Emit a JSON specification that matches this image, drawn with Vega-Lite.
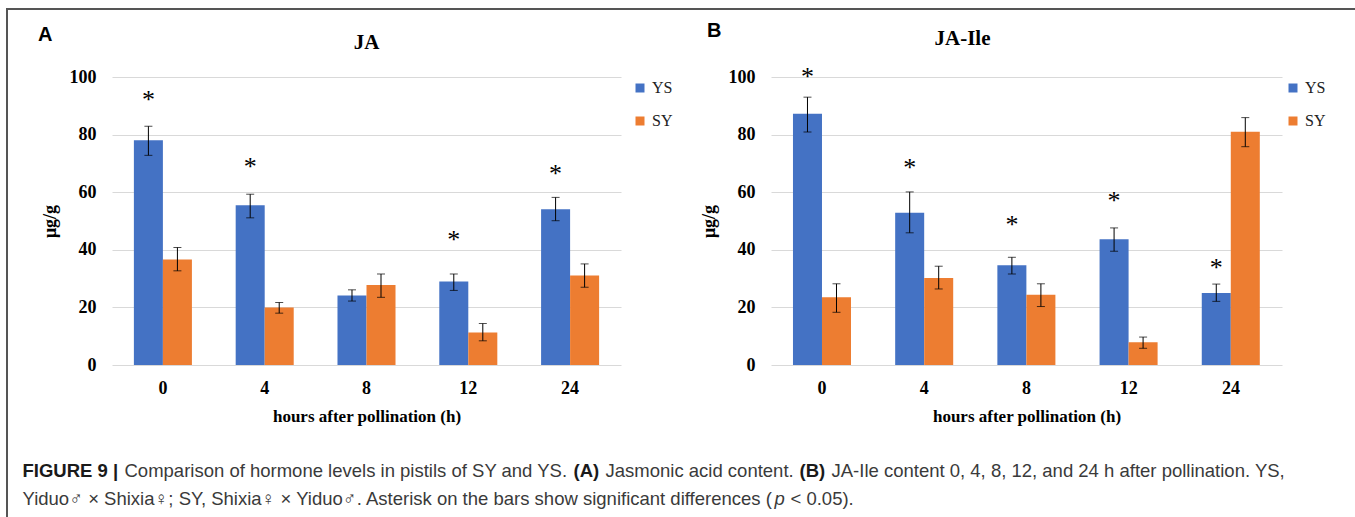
{
  "$schema": "https://vega.github.io/schema/vega-lite/v6.json",
  "padding": {"left": 6, "top": 8, "right": 0, "bottom": 0},
  "background": "white",
  "config": {
    "view": {"stroke": null},
    "font": "Liberation Serif",
    "axis": {"labelFont": "Liberation Serif", "titleFont": "Liberation Serif", "labelColor": "black", "titleColor": "black", "labelFontWeight": "bold", "titleFontWeight": "bold", "ticks": false},
    "legend": {"orient": "right", "symbolType": "square", "symbolSize": 81, "symbolStrokeWidth": 0, "labelFont": "Liberation Serif", "labelFontSize": 16, "labelColor": "#222222", "rowPadding": 17, "padding": 3, "labelOffset": 4},
    "title": {"font": "Liberation Serif", "fontWeight": "bold", "color": "black"}
  },
  "spacing": 0,
  "vconcat": [
    {"width": 1349, "height": 2, "view": {"fill": "#555555", "stroke": null}, "data": {"values": []}, "mark": "point", "encoding": {}},
    {
      "spacing": 14,
      "hconcat": [
        {"width": 2, "height": 520, "view": {"fill": "#555555", "stroke": null}, "data": {"values": []}, "mark": "point", "encoding": {}},
        {
          "spacing": 0,
          "vconcat": [
            {"width": 1, "height": 10, "data": {"values": []}, "mark": "point", "encoding": {}},
            {
              "spacing": 0,
              "resolve": {"scale": {"color": "independent"}, "legend": {"color": "independent"}},
              "hconcat": [
                {"width": 16, "height": 1, "data": {"values": []}, "mark": "point", "encoding": {}},
                {
                  "title": {"text": "A", "anchor": "start", "frame": "group", "font": "Liberation Sans", "fontSize": 20, "fontWeight": "bold", "color": "black", "offset": -13, "dx": -74},
                  "resolve": {"scale": {"color": "independent"}, "legend": {"color": "independent"}},
                  "vconcat": [
                    {
                      "width": 509, "height": 288,
                      "title": {"text": "JA", "fontSize": 21, "offset": 15, "frame": "group"},
                      "data": {"values": [
                        {"hour": "0", "group": "YS", "mean": 78.0, "lo": 72.8, "hi": 82.9},
                        {"hour": "0", "group": "SY", "mean": 36.6, "lo": 32.7, "hi": 40.8},
                        {"hour": "4", "group": "YS", "mean": 55.5, "lo": 51.1, "hi": 59.3},
                        {"hour": "4", "group": "SY", "mean": 20.0, "lo": 18.0, "hi": 21.7},
                        {"hour": "8", "group": "YS", "mean": 24.1, "lo": 22.2, "hi": 26.1},
                        {"hour": "8", "group": "SY", "mean": 27.8, "lo": 23.5, "hi": 31.6},
                        {"hour": "12", "group": "YS", "mean": 29.0, "lo": 25.9, "hi": 31.6},
                        {"hour": "12", "group": "SY", "mean": 11.3, "lo": 8.4, "hi": 14.4},
                        {"hour": "24", "group": "YS", "mean": 54.1, "lo": 50.1, "hi": 58.2},
                        {"hour": "24", "group": "SY", "mean": 31.1, "lo": 27.0, "hi": 35.1}
                      ]},
                      "encoding": {
                        "x": {"field": "hour", "type": "nominal", "sort": ["0", "4", "8", "12", "24"], "scale": {"paddingInner": 0.43, "paddingOuter": 0.215}, "axis": {"title": "hours after pollination (h)", "labelAngle": 0, "labelFontSize": 18, "titleFontSize": 17, "labelPadding": 14, "titlePadding": 11, "domain": false, "grid": false}},
                        "xOffset": {"field": "group", "type": "nominal", "sort": ["YS", "SY"]}
                      },
                      "layer": [
                        {"mark": {"type": "bar"}, "encoding": {
                          "y": {"field": "mean", "type": "quantitative", "title": "μg/g", "scale": {"domain": [0, 100], "nice": false}, "axis": {"values": [0, 20, 40, 60, 80, 100], "grid": true, "gridColor": "#d9d9d9", "domain": false, "labelFontSize": 18, "labelPadding": 16, "titleFontSize": 18, "titlePadding": 10}},
                          "color": {"field": "group", "type": "nominal", "sort": ["YS", "SY"], "scale": {"domain": ["YS", "SY"], "range": ["#4472C4", "#ED7D31"]}, "legend": {"title": null, "offset": 8}}
                        }},
                        {"mark": {"type": "rule", "color": "black", "strokeWidth": 1}, "encoding": {"y": {"field": "lo", "type": "quantitative", "title": "μg/g"}, "y2": {"field": "hi"}}},
                        {"mark": {"type": "tick", "orient": "horizontal", "color": "black", "size": 8, "thickness": 1}, "encoding": {"y": {"field": "lo", "type": "quantitative", "title": "μg/g"}}},
                        {"mark": {"type": "tick", "orient": "horizontal", "color": "black", "size": 8, "thickness": 1}, "encoding": {"y": {"field": "hi", "type": "quantitative", "title": "μg/g"}}},
                        {"data": {"values": [
                          {"hour": "0", "group": "YS", "star": 93.3},
                          {"hour": "4", "group": "YS", "star": 70.3},
                          {"hour": "12", "group": "YS", "star": 44.8},
                          {"hour": "24", "group": "YS", "star": 67.6}
                        ]}, "mark": {"type": "text", "text": "*", "fontSize": 26, "baseline": "middle", "dy": 4, "font": "Liberation Serif", "color": "black"}, "encoding": {"y": {"field": "star", "type": "quantitative", "title": "μg/g"}}}
                      ]
                    }
                  ]
                },
                {"width": 24, "height": 1, "data": {"values": []}, "mark": "point", "encoding": {}},
                {
                  "title": {"text": "B", "anchor": "start", "frame": "group", "font": "Liberation Sans", "fontSize": 20, "fontWeight": "bold", "color": "black", "offset": -13, "dx": -64},
                  "resolve": {"scale": {"color": "independent"}, "legend": {"color": "independent"}},
                  "vconcat": [
                    {
                      "width": 511, "height": 288,
                      "title": {"text": "JA-Ile", "fontSize": 21, "offset": 15, "frame": "group", "dx": -64},
                      "data": {"values": [
                        {"hour": "0", "group": "YS", "mean": 87.2, "lo": 80.9, "hi": 93.0},
                        {"hour": "0", "group": "SY", "mean": 23.5, "lo": 18.3, "hi": 28.2},
                        {"hour": "4", "group": "YS", "mean": 52.9, "lo": 45.9, "hi": 60.1},
                        {"hour": "4", "group": "SY", "mean": 30.2, "lo": 26.4, "hi": 34.3},
                        {"hour": "8", "group": "YS", "mean": 34.6, "lo": 31.6, "hi": 37.4},
                        {"hour": "8", "group": "SY", "mean": 24.4, "lo": 20.3, "hi": 28.2},
                        {"hour": "12", "group": "YS", "mean": 43.7, "lo": 39.5, "hi": 47.6},
                        {"hour": "12", "group": "SY", "mean": 7.9, "lo": 5.8, "hi": 9.7},
                        {"hour": "24", "group": "YS", "mean": 25.0, "lo": 22.1, "hi": 28.1},
                        {"hour": "24", "group": "SY", "mean": 81.0, "lo": 75.8, "hi": 85.9}
                      ]},
                      "encoding": {
                        "x": {"field": "hour", "type": "nominal", "sort": ["0", "4", "8", "12", "24"], "scale": {"paddingInner": 0.43, "paddingOuter": 0.215}, "axis": {"title": "hours after pollination (h)", "labelAngle": 0, "labelFontSize": 18, "titleFontSize": 17, "labelPadding": 14, "titlePadding": 11, "domain": false, "grid": false}},
                        "xOffset": {"field": "group", "type": "nominal", "sort": ["YS", "SY"]}
                      },
                      "layer": [
                        {"mark": {"type": "bar"}, "encoding": {
                          "y": {"field": "mean", "type": "quantitative", "title": "μg/g", "scale": {"domain": [0, 100], "nice": false}, "axis": {"values": [0, 20, 40, 60, 80, 100], "grid": true, "gridColor": "#d9d9d9", "domain": false, "labelFontSize": 18, "labelPadding": 16, "titleFontSize": 18, "titlePadding": 10}},
                          "color": {"field": "group", "type": "nominal", "sort": ["YS", "SY"], "scale": {"domain": ["YS", "SY"], "range": ["#4472C4", "#ED7D31"]}, "legend": {"title": null, "offset": 0}}
                        }},
                        {"mark": {"type": "rule", "color": "black", "strokeWidth": 1}, "encoding": {"y": {"field": "lo", "type": "quantitative", "title": "μg/g"}, "y2": {"field": "hi"}}},
                        {"mark": {"type": "tick", "orient": "horizontal", "color": "black", "size": 8, "thickness": 1}, "encoding": {"y": {"field": "lo", "type": "quantitative", "title": "μg/g"}}},
                        {"mark": {"type": "tick", "orient": "horizontal", "color": "black", "size": 8, "thickness": 1}, "encoding": {"y": {"field": "hi", "type": "quantitative", "title": "μg/g"}}},
                        {"data": {"values": [
                          {"hour": "0", "group": "YS", "star": 101.4},
                          {"hour": "4", "group": "YS", "star": 69.7},
                          {"hour": "8", "group": "YS", "star": 50.0},
                          {"hour": "12", "group": "YS", "star": 58.5},
                          {"hour": "24", "group": "YS", "star": 35.2}
                        ]}, "mark": {"type": "text", "text": "*", "fontSize": 26, "baseline": "middle", "dy": 4, "font": "Liberation Serif", "color": "black"}, "encoding": {"y": {"field": "star", "type": "quantitative", "title": "μg/g"}}}
                      ]
                    }
                  ]
                }
              ]
            },
            {"width": 1, "height": 37, "data": {"values": []}, "mark": "point", "encoding": {}},
            {
              "spacing": 5,
              "hconcat": [
                {"width": 1, "height": 1, "data": {"values": [{"t": "FIGURE 9 |"}]}, "mark": {"type": "text", "align": "left", "baseline": "middle", "font": "Liberation Sans", "fontSize": 18.5, "fontWeight": "bold", "color": "#1a1a1a"}, "encoding": {"text": {"field": "t", "type": "nominal"}}},
                {"width": 1, "height": 1, "data": {"values": [{"t": "Comparison of hormone levels in pistils of SY and YS."}]}, "mark": {"type": "text", "align": "left", "baseline": "middle", "font": "Liberation Sans", "fontSize": 18.5, "color": "#3a3a3a"}, "encoding": {"text": {"field": "t", "type": "nominal"}}},
                {"width": 1, "height": 1, "data": {"values": [{"t": "(A)"}]}, "mark": {"type": "text", "align": "left", "baseline": "middle", "font": "Liberation Sans", "fontSize": 18.5, "fontWeight": "bold", "color": "#1a1a1a"}, "encoding": {"text": {"field": "t", "type": "nominal"}}},
                {"width": 1, "height": 1, "data": {"values": [{"t": "Jasmonic acid content."}]}, "mark": {"type": "text", "align": "left", "baseline": "middle", "font": "Liberation Sans", "fontSize": 18.5, "color": "#3a3a3a"}, "encoding": {"text": {"field": "t", "type": "nominal"}}},
                {"width": 1, "height": 1, "data": {"values": [{"t": "(B)"}]}, "mark": {"type": "text", "align": "left", "baseline": "middle", "font": "Liberation Sans", "fontSize": 18.5, "fontWeight": "bold", "color": "#1a1a1a"}, "encoding": {"text": {"field": "t", "type": "nominal"}}},
                {"width": 1, "height": 1, "data": {"values": [{"t": "JA-Ile content 0, 4, 8, 12, and 24 h after pollination. YS,"}]}, "mark": {"type": "text", "align": "left", "baseline": "middle", "font": "Liberation Sans", "fontSize": 18.5, "color": "#3a3a3a"}, "encoding": {"text": {"field": "t", "type": "nominal"}}}
              ]
            },
            {"width": 1, "height": 9, "data": {"values": []}, "mark": "point", "encoding": {}},
            {
              "spacing": 5,
              "hconcat": [
                {
                  "spacing": 0,
                  "hconcat": [
                    {"width": 1, "height": 1, "data": {"values": [{"t": "Yiduo♂ × Shixia♀; SY, Shixia♀ × Yiduo♂. Asterisk on the bars show significant differences ("}]}, "mark": {"type": "text", "align": "left", "baseline": "middle", "font": "Liberation Sans", "fontSize": 18.5, "color": "#3a3a3a"}, "encoding": {"text": {"field": "t", "type": "nominal"}}},
                    {"width": 1, "height": 1, "data": {"values": [{"t": "p"}]}, "mark": {"type": "text", "align": "left", "baseline": "middle", "font": "Liberation Sans", "fontSize": 18.5, "fontStyle": "italic", "color": "#3a3a3a"}, "encoding": {"text": {"field": "t", "type": "nominal"}}}
                  ]
                },
                {"width": 1, "height": 1, "data": {"values": [{"t": "< 0.05)."}]}, "mark": {"type": "text", "align": "left", "baseline": "middle", "font": "Liberation Sans", "fontSize": 18.5, "color": "#3a3a3a"}, "encoding": {"text": {"field": "t", "type": "nominal"}}}
              ]
            }
          ]
        }
      ]
    }
  ]
}
